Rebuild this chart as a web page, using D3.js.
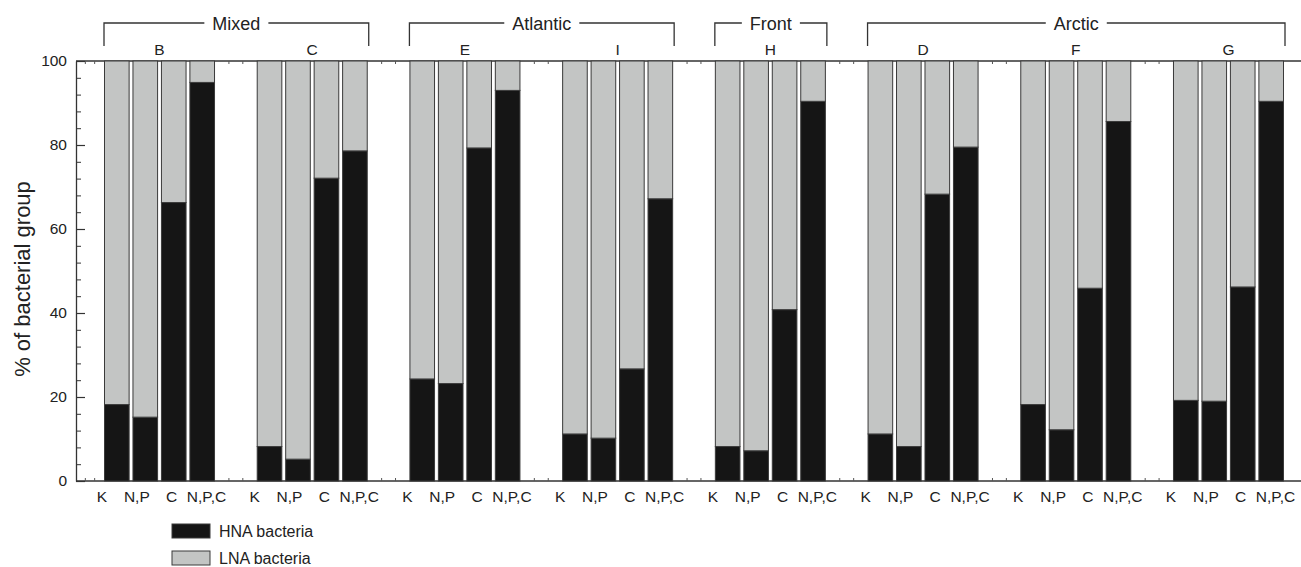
<!DOCTYPE html>
<html>
<head>
<meta charset="utf-8">
<script src="https://cdn.jsdelivr.net/npm/d3@7/dist/d3.min.js"></script>
<style>
  html, body { margin: 0; padding: 0; background: #fff; }
  svg { display: block; }
  text { font-family: "Liberation Sans", Arial, Helvetica, sans-serif; fill: #222; }
</style>
</head>
<body>
<svg id="chart" width="1301" height="567"></svg>
<script>
// ---- data ----
const stations = ["B", "C", "E", "I", "H", "D", "F", "G"];
const treatments = ["K", "N,P", "C", "N,P,C"];
const regions = ["Mixed", "Atlantic", "Front", "Arctic"];
const regionStations = [["B", "C"], ["E", "I"], ["H"], ["D", "F", "G"]];
// HNA bacteria (% of total) per station, in treatment order K, N,P, C, N,P,C
const hnaB = [18.2, 15.2, 66.3, 94.9];
const hnaC = [8.2, 5.2, 72.1, 78.6];
const hnaE = [24.3, 23.2, 79.3, 93.0];
const hnaI = [11.2, 10.2, 26.7, 67.2];
const hnaH = [8.2, 7.2, 40.8, 90.4];
const hnaD = [11.2, 8.2, 68.3, 79.5];
const hnaF = [18.2, 12.2, 45.9, 85.6];
const hnaG = [19.2, 19.0, 46.2, 90.4];
const seriesNames = ["HNA bacteria", "LNA bacteria"];
const yTicks = [0, 20, 40, 60, 80, 100];

const hnaByStation = { B: hnaB, C: hnaC, E: hnaE, I: hnaI, H: hnaH, D: hnaD, F: hnaF, G: hnaG };
const rows = [];
stations.forEach(s => treatments.forEach((t, i) => {
  rows.push({ station: s, treatment: t, HNA: hnaByStation[s][i], LNA: 100 - hnaByStation[s][i] });
}));

// ---- layout ----
const svg = d3.select("#chart");
const W = 1301;
const axisX = 76, yTop = 61, yBot = 481;
const colors = { HNA: "#151515", LNA: "#c3c5c4" };
const outline = "#3a3a3a";

const x = d3.scaleBand().domain(stations).range([104, 1284]).paddingInner(0.273).paddingOuter(0);
const xi = d3.scaleBand().domain(treatments).range([0, x.bandwidth()]).paddingInner(0.1).paddingOuter(0);
const xl = d3.scalePoint().domain(treatments).range([-2, 102.5]);
const y = d3.scaleLinear().domain([0, 100]).range([yBot, yTop]);

// frame lines (top and bottom)
svg.append("line").attr("x1", axisX).attr("x2", W).attr("y1", yTop).attr("y2", yTop)
  .attr("stroke", "#333").attr("stroke-width", 1.3);
svg.append("line").attr("x1", axisX).attr("x2", W).attr("y1", yBot).attr("y2", yBot)
  .attr("stroke", "#333").attr("stroke-width", 1.3);

// small ticks in the gaps between stations on top/bottom lines
const gapEdges = [[axisX, x(stations[0])]];
for (let i = 0; i < stations.length - 1; i++) {
  gapEdges.push([x(stations[i]) + x.bandwidth(), x(stations[i + 1])]);
}
gapEdges.forEach(([a, b]) => {
  [1 / 3, 2 / 3].forEach(f => {
    const gx = a + (b - a) * f;
    svg.append("line").attr("x1", gx).attr("x2", gx).attr("y1", yTop).attr("y2", yTop + 3).attr("stroke", "#555");
    svg.append("line").attr("x1", gx).attr("x2", gx).attr("y1", yBot).attr("y2", yBot - 3).attr("stroke", "#555");
  });
});

// bars
const stack = d3.stack().keys(["HNA", "LNA"]);
const stacked = stack(rows);
const gBars = svg.append("g");
stacked.forEach(layer => {
  gBars.selectAll(null).data(layer).enter().append("rect")
    .attr("x", d => x(d.data.station) + xi(d.data.treatment) + 0.5)
    .attr("y", d => y(d[1]))
    .attr("width", xi.bandwidth() - 1)
    .attr("height", d => y(d[0]) - y(d[1]))
    .attr("fill", colors[layer.key])
    .attr("stroke", outline)
    .attr("stroke-width", 1);
});

// y axis
const yMinor = d3.range(0, 101, 4);
svg.append("g").attr("transform", `translate(${axisX},0)`)
  .call(d3.axisLeft(y).tickValues(yMinor).tickSizeInner(-5).tickSizeOuter(0).tickFormat(""))
  .call(g => g.select(".domain").remove())
  .call(g => g.selectAll("line").attr("stroke", "#333"));
const yAxisG = svg.append("g").attr("transform", `translate(${axisX},0)`)
  .call(d3.axisLeft(y).tickValues(yTicks).tickSizeInner(-9).tickSizeOuter(0).tickPadding(9));
yAxisG.select(".domain").attr("stroke", "#333").attr("stroke-width", 1.3);
yAxisG.selectAll("line").attr("stroke", "#333").attr("stroke-width", 1.2);
yAxisG.selectAll("text").attr("font-size", 15.5).attr("fill", "#222")
  .attr("font-family", "Liberation Sans, Arial, sans-serif");

// y title
svg.append("text")
  .attr("transform", `translate(30,${(yTop + yBot) / 2 + 8}) rotate(-90)`)
  .attr("text-anchor", "middle")
  .attr("font-size", 22)
  .text("% of bacterial group");

// x labels (treatments)
stations.forEach(s => {
  treatments.forEach(t => {
    svg.append("text")
      .attr("x", x(s) + xl(t))
      .attr("y", 502)
      .attr("text-anchor", "middle")
      .attr("font-size", 15.5)
      .text(t);
  });
});

// station letters
svg.selectAll(null).data(stations).enter().append("text")
  .attr("x", d => x(d) + x.bandwidth() / 2)
  .attr("y", 55)
  .attr("text-anchor", "middle")
  .attr("font-size", 15.5)
  .text(d => d);

// region brackets
regions.forEach((r, i) => {
  const st = regionStations[i];
  const x0 = x(st[0]);
  const x1 = x(st[st.length - 1]) + x.bandwidth() + 1;
  const by = 23, bEnd = 46;
  const cx = (x0 + x1) / 2;
  const txt = svg.append("text").attr("x", cx).attr("y", by + 6.5)
    .attr("text-anchor", "middle").attr("font-size", 18).text(r);
  const tw = txt.node().getComputedTextLength();
  const gap = tw / 2 + 8;
  const path = d3.path();
  path.moveTo(x0, bEnd); path.lineTo(x0, by); path.lineTo(cx - gap, by);
  path.moveTo(cx + gap, by); path.lineTo(x1, by); path.lineTo(x1, bEnd);
  svg.append("path").attr("d", path.toString()).attr("fill", "none")
    .attr("stroke", "#333").attr("stroke-width", 1.3);
});

// legend
const legend = svg.append("g").attr("transform", "translate(172,524)");
seriesNames.forEach((name, i) => {
  const key = i === 0 ? "HNA" : "LNA";
  legend.append("rect").attr("x", 0).attr("y", i * 27).attr("width", 38).attr("height", 14)
    .attr("fill", colors[key]).attr("stroke", outline).attr("stroke-width", 1);
  legend.append("text").attr("x", 47).attr("y", i * 27 + 12.5)
    .attr("font-size", 16).text(name);
});
</script>
</body>
</html>
